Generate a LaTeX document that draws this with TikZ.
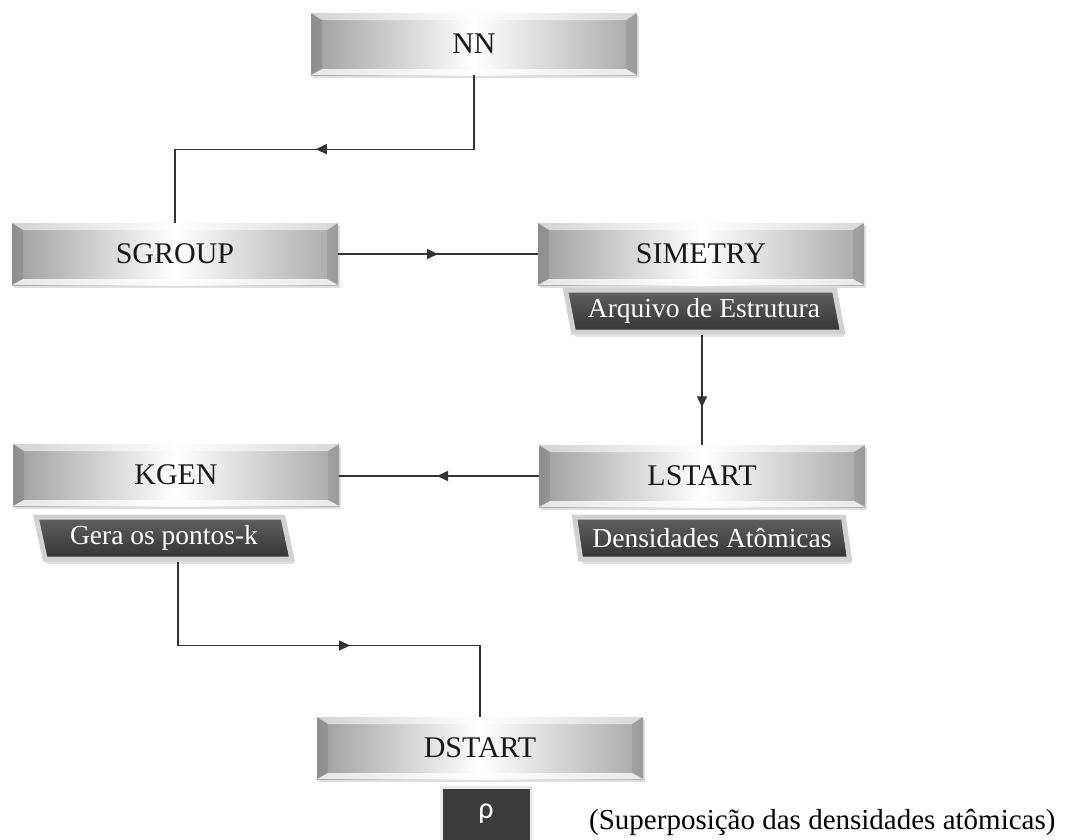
\documentclass[tikz,border=0pt]{standalone}
\usepackage{fontspec}
\setmainfont{Liberation Serif}
\newfontfamily\rhofont{Carlito}
\usetikzlibrary{shapes.geometric,shadows,decorations.markings,arrows.meta}

\tikzset{
  silver/.style={rectangle, minimum width=326pt, minimum height=62pt, inner sep=0pt,
    left color=black!38, right color=black!34, middle color=white,
    font=\fontsize{30}{34}\selectfont, text=black!90,
    drop shadow={shadow xshift=1.5pt, shadow yshift=-3pt, opacity=0.25},
    path picture={
      \fill[white, opacity=0.55] (path picture bounding box.north west) -- (path picture bounding box.north east)
        -- ([shift={(-11,7)}]path picture bounding box.north east) -- ([shift={(11,7)}]path picture bounding box.north west) -- cycle;
      \fill[black, opacity=0.1] (path picture bounding box.north west) -- ([shift={(11,7)}]path picture bounding box.north west)
        -- ([shift={(11,-6)}]path picture bounding box.south west) -- (path picture bounding box.south west) -- cycle;
      \fill[black, opacity=0.08] (path picture bounding box.north east) -- ([shift={(-11,7)}]path picture bounding box.north east)
        -- ([shift={(-11,-6)}]path picture bounding box.south east) -- (path picture bounding box.south east) -- cycle;
      \fill[white, opacity=0.75] (path picture bounding box.south west) -- (path picture bounding box.south east)
        -- ([shift={(-11,-6)}]path picture bounding box.south east) -- ([shift={(11,-6)}]path picture bounding box.south west) -- cycle;
    }},
  subbox/.style={trapezium, trapezium left angle=106, trapezium right angle=74, trapezium stretches=true,
    minimum width=#1, minimum height=42pt, inner sep=0pt,
    draw=black!18, line width=5pt, top color=black!62, bottom color=black!80,
    text=white, font=\fontsize{27.5}{30}\selectfont,
    drop shadow={shadow xshift=2pt, shadow yshift=-5pt, opacity=0.22}},
  rhobox/.style={rectangle, minimum width=90pt, minimum height=54pt, inner sep=0pt,
    fill=black!77, draw=black!8, line width=3pt, text=white, font=\rhofont\fontsize{30}{34}\selectfont},
  flow/.style={draw=black!80, line width=1.3pt, postaction={decorate},
    decoration={markings, mark=at position #1 with {\arrow{Triangle[length=11pt,width=10pt]}}}}
}

\begin{document}
\begin{tikzpicture}[x=1pt, y=-1pt]
\useasboundingbox (0,0) rectangle (1066,839);

\node[silver] (nn) at (474,44) {NN};
\node[silver] (sgroup) at (175,254) {SGROUP};
\node[silver] (simetry) at (701,254) {SIMETRY};
\node[subbox=278pt] (arq) at (704,311) {Arquivo de Estrutura};
\node[silver] (lstart) at (702,476) {LSTART};
\node[subbox=276pt] (dens) at (712,538) {Densidades Atômicas};
\node[silver] (kgen) at (176,475) {KGEN};
\node[subbox=256pt] (gera) at (164,538) {Gera os pontos-k};
\node[silver] (dstart) at (480,748) {DSTART};
\node[rhobox] (rho) at (486,814) {ρ};
\node[anchor=west, inner sep=0pt, font=\fontsize{29}{34}\selectfont] (sup) at (589,822) {(Superposição das densidades atômicas)};

\draw[flow=0.52] (nn.south) -- ++(0,74) -| (sgroup.north);
\draw[flow=0.5] (sgroup.east) -- (simetry.west);
\draw[flow=0.66] ([xshift=-2pt]arq.south) -- ([xshift=-2pt]arq.south |- lstart.north);
\draw[flow=0.51] (lstart.west) -- (lstart.west -| kgen.east);
\draw[flow=0.56] ([xshift=14pt]gera.south) -- ++(0,84) -| (dstart.north);
\end{tikzpicture}
\end{document}
